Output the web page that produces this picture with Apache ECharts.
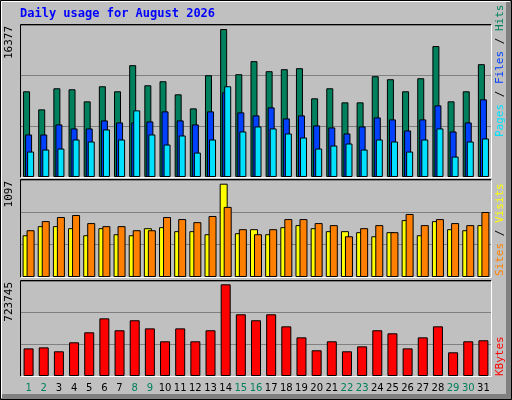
<!DOCTYPE html>
<html><head><meta charset="utf-8">
<script src="https://cdn.jsdelivr.net/npm/echarts@6/dist/echarts.min.js"></script>
<style>html,body{margin:0;padding:0;background:#c0c0c0}#c{width:512px;height:400px}</style>
</head><body><div id="c"></div>
<script>
const days = ['1','2','3','4','5','6','7','8','9','10','11','12','13','14','15','16','17','18','19','20','21','22','23','24','25','26','27','28','29','30','31'];
const weekend = ['1','2','8','9','15','16','22','23','29','30'];
const hits = [9485,7484,9818,9707,8373,10041,9485,12375,10152,10596,9151,7595,11263,16377,11374,12819,11708,11930,12041,8707,9818,8262,8262,11152,10819,9485,10930,14487,8373,9485,12486];
const files = [4705,4705,5817,5372,5372,6261,6039,6039,6150,7262,6261,5817,7262,9374,7151,6817,7706,6484,6817,5706,5483,4817,5595,6595,6373,5150,6373,7929,5039,6039,8596];
const pages = [2816,3038,3149,4150,3927,5261,4150,7373,4705,3594,4594,2705,4150,10041,5039,5595,5372,4817,4372,3149,3483,3705,3038,4150,3927,2816,4150,5372,2260,3927,4261];
const sites = [491,598,598,574,491,574,503,491,574,586,539,539,503,1097,515,562,503,586,610,574,539,539,527,479,527,669,491,657,562,550,610];
const visits = [550,657,705,729,634,598,598,550,550,705,681,645,717,824,562,503,562,681,681,634,610,479,574,610,527,741,610,681,634,610,764];
const kbytes = [218000,226000,195000,266000,345000,455000,361000,440000,376000,274000,376000,274000,361000,723745,487000,440000,487000,392000,305000,203000,274000,195000,234000,361000,337000,218000,305000,392000,187000,274000,282000];
const maxLabels = ['16377','1097','723745'];

const grids = [
  {left:21, width:470, top:25, height:152},
  {left:21, width:470, top:180, height:97},
  {left:21, width:470, top:281, height:95}
];
const maxes = [16377*152/148, 1097*97/93.3, 723745*95/91.7];
const xAxes = grids.map((g,i)=>({type:'category', gridIndex:i, data:days, boundaryGap:true,
  axisLine:{show:false}, axisTick:{show:false},
  axisLabel:{show:i===2, interval:0, margin:7, fontFamily:'DejaVu Sans', fontSize:10,
    color:(v)=>weekend.includes(v)?'#00805c':'#000'}}));
const yAxes = grids.map((g,i)=>({type:'value', gridIndex:i, min:0, max:maxes[i], interval:maxes[i]/3,
  axisLine:{show:false}, axisTick:{show:false}, axisLabel:{show:false},
  splitLine:{show:true, lineStyle:{color:'#808080', width:1}}}));
const bs = {borderColor:'#000', borderWidth:1};
const series = [
  {type:'bar', xAxisIndex:0, yAxisIndex:0, data:hits, barWidth:7, barGap:'-71%', itemStyle:{color:'#00805c',...bs}},
  {type:'bar', xAxisIndex:0, yAxisIndex:0, data:files, barWidth:7, barGap:'-71%', itemStyle:{color:'#0040ff',...bs}},
  {type:'bar', xAxisIndex:0, yAxisIndex:0, data:pages, barWidth:7, barGap:'-71%', itemStyle:{color:'#00e0ff',...bs}},
  {type:'bar', xAxisIndex:1, yAxisIndex:1, data:sites, barWidth:8, barGap:'-50%', itemStyle:{color:'#ffff00',...bs}},
  {type:'bar', xAxisIndex:1, yAxisIndex:1, data:visits, barWidth:8, barGap:'-50%', itemStyle:{color:'#ff8000',...bs}},
  {type:'bar', xAxisIndex:2, yAxisIndex:2, data:kbytes, barWidth:10, itemStyle:{color:'#ff0000',...bs}}
];
const graphic = [
  {type:'rect', shape:{x:0,y:0,width:512,height:400}, style:{fill:'#c0c0c0'}, z:-10, silent:true},
  {type:'rect', shape:{x:506,y:0,width:6,height:400}, style:{fill:'#808080'}, z:-9},
  {type:'rect', shape:{x:0,y:394,width:512,height:6}, style:{fill:'#808080'}, z:-9},
  {type:'rect', shape:{x:0.5,y:0.5,width:511,height:399}, style:{fill:null, stroke:'#000', lineWidth:1}, z:10},
  {type:'polyline', shape:{points:[[1.5,398],[1.5,1.5],[510,1.5]]}, style:{stroke:'#fff', fill:null, lineWidth:1}, z:10},
  {type:'text', x:20, y:8, style:{text:'Daily usage for August 2026', font:'bold 12px "DejaVu Sans Mono"', fill:'#0000ff'}},
];
grids.forEach((g,i)=>{
  graphic.push({type:'polyline', shape:{points:[[g.left-0.5,g.top+g.height+0.5],[g.left-0.5,g.top-0.5],[g.left+g.width+0.5,g.top-0.5]]}, style:{stroke:'#000',fill:null,lineWidth:1}, z:5});
  graphic.push({type:'polyline', shape:{points:[[g.left+g.width+0.5,g.top-0.5],[g.left+g.width+0.5,g.top+g.height+0.5],[g.left-0.5,g.top+g.height+0.5]]}, style:{stroke:'#fff',fill:null,lineWidth:1}, z:5});
  graphic.push({type:'text', x:9, y:g.top+1, rotation:Math.PI/2, style:{text:maxLabels[i], font:'11px "DejaVu Sans Mono"', fill:'#000', align:'right', verticalAlign:'middle'}});
});
graphic.push({type:'text', x:500, y:137, rotation:Math.PI/2, style:{text:'{p|Pages}{s| / }{f|Files}{s| / }{h|Hits}', font:'11px "DejaVu Sans Mono"', align:'left', verticalAlign:'middle',
  rich:{p:{fill:'#00e0ff',font:'11px "DejaVu Sans Mono"'},f:{fill:'#0040ff',font:'11px "DejaVu Sans Mono"'},h:{fill:'#00805c',font:'11px "DejaVu Sans Mono"'},s:{fill:'#000',font:'11px "DejaVu Sans Mono"'}}}});
graphic.push({type:'text', x:500, y:276, rotation:Math.PI/2, style:{text:'{a|Sites}{s| / }{b|Visits}', font:'11px "DejaVu Sans Mono"', align:'left', verticalAlign:'middle',
  rich:{a:{fill:'#ff8000',font:'11px "DejaVu Sans Mono"'},b:{fill:'#ffff00',font:'11px "DejaVu Sans Mono"'},s:{fill:'#000',font:'11px "DejaVu Sans Mono"'}}}});
graphic.push({type:'text', x:500, y:376, rotation:Math.PI/2, style:{text:'KBytes', font:'11px "DejaVu Sans Mono"', fill:'#ff0000', align:'left', verticalAlign:'middle'}});

const chart = echarts.init(document.getElementById('c'), null, {renderer:'canvas'});
chart.setOption({animation:false, backgroundColor:'#c0c0c0', grid:grids, xAxis:xAxes, yAxis:yAxes, series, graphic});
</script></body></html>
